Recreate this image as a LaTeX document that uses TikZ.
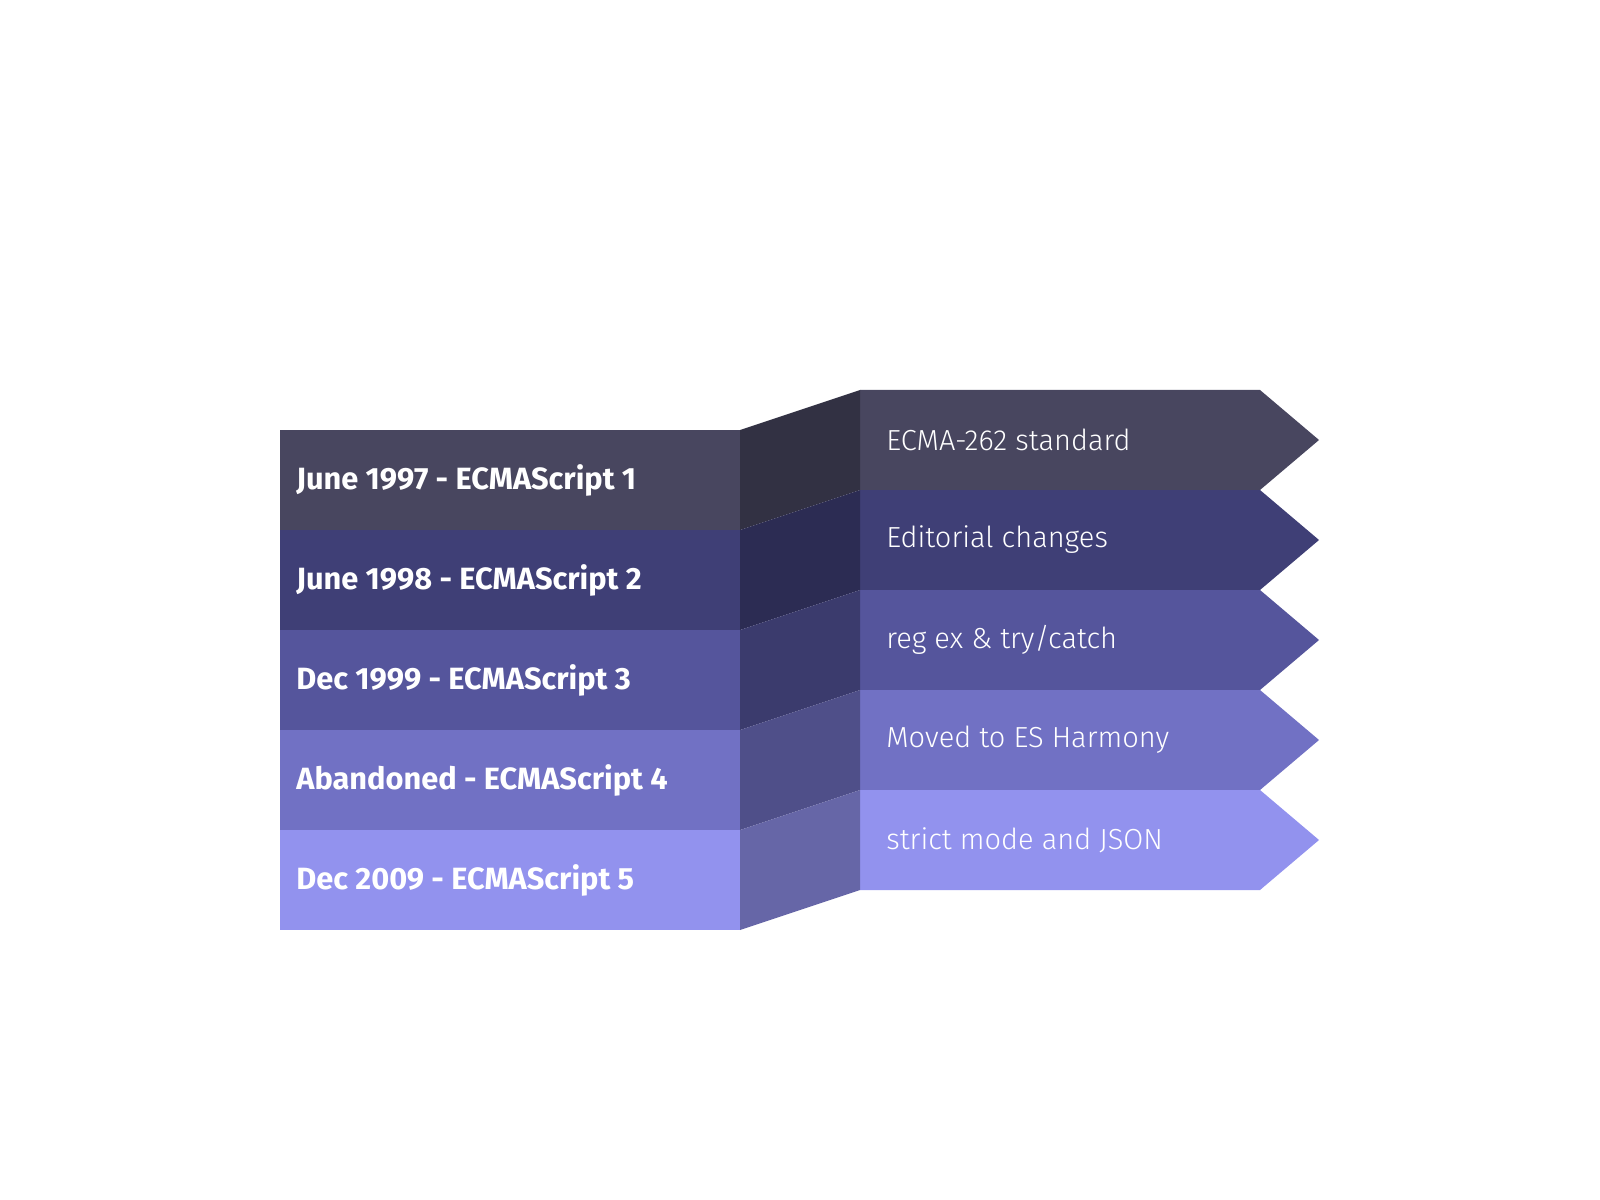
\documentclass[tikz,border=0pt]{standalone}
\usepackage{fontspec}
\setmainfont{Fira Sans}
\newfontfamily\lightfont{Fira Sans Light}
\usetikzlibrary{calc}

\definecolor{esA}{HTML}{48465F}
\definecolor{esB}{HTML}{3F3F76}
\definecolor{esC}{HTML}{55559C}
\definecolor{esD}{HTML}{7171C4}
\definecolor{esE}{HTML}{9292EE}

\tikzset{
  yearlabel/.style={anchor=west,text=white,inner sep=0pt,
    font=\bfseries\fontsize{17.5}{20}\selectfont},
  notelabel/.style={anchor=west,text=white,inner sep=0pt,
    font=\lightfont\fontsize{16.5}{19}\selectfont},
}

\begin{document}
\begin{tikzpicture}[x=0.2mm,y=-0.2mm]
    \useasboundingbox (0,0) rectangle (1600,1200);

    %======================================================
    % blocks, folds and arrows
    %======================================================
    \foreach \i/\c in {1/esA,2/esB,3/esC,4/esD,5/esE}{
        % left block
        \coordinate (LT\i) at (280,{330+100*\i});
        \coordinate (LB\i) at (740,{430+100*\i});
        \fill[\c] (LT\i) rectangle (LB\i);

        % right arrow
        \coordinate (RT\i) at (860,{290+100*\i});
        \coordinate (RB\i) at (860,{390+100*\i});
        \fill[\c] (RT\i) -- ++(400,0) -- ++(59,50) -- ++(-59,50) -- (RB\i) -- cycle;

        % fold between them
        \fill[\c!70!black] (LB\i |- LT\i) -- (RT\i) -- (RB\i) -- (LB\i) -- cycle;
    }

    %======================================================
    % labels
    %======================================================
    \node[yearlabel] (y1) at (296,480) {June 1997 - ECMAScript 1};
    \node[yearlabel] (y2) at (296,580) {June 1998 - ECMAScript 2};
    \node[yearlabel] (y3) at (296,680) {Dec 1999 - ECMAScript 3};
    \node[yearlabel] (y4) at (296,780) {Abandoned - ECMAScript 4};
    \node[yearlabel] (y5) at (296,880) {Dec 2009 - ECMAScript 5};

    \node[notelabel] (n1) at (886,440) {ECMA-262 standard};
    \node[notelabel] (n2) at (886,540) {Editorial changes};
    \node[notelabel] (n3) at (886,640) {reg ex \& try/catch};
    \node[notelabel] (n4) at (886,740) {Moved to ES Harmony};
    \node[notelabel] (n5) at (886,840) {strict mode and JSON};
\end{tikzpicture}
\end{document}
